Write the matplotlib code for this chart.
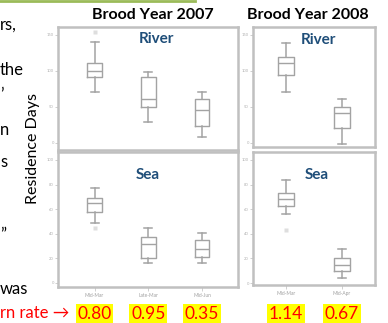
import matplotlib
matplotlib.use("Agg")
import matplotlib.pyplot as plt
from matplotlib.lines import Line2D

plt.rcParams['font.family'] = ['Lato', 'DejaVu Sans']

W, H = 388, 323

# box stats: whislo, q1, med, q3, whishi
river_2007 = [[71, 92, 100, 111, 140], [29, 50, 61, 92, 99], [8, 24, 46, 61, 71]]
river_2007_fliers = [[154], [], []]
sea_2007 = [[49, 58, 65, 69, 77], [16, 20, 32, 37, 45], [16, 21, 28, 35, 41]]
sea_2007_fliers = [[45], [], []]
river_2008 = [[71, 94, 111, 119, 139], [-1, 21, 42, 50, 61]]
river_2008_fliers = [[], []]
sea_2008 = [[56, 63, 68, 73, 84], [4, 10, 15, 20, 28]]
sea_2008_fliers = [[43], []]

labels_2007 = ['Mid-Mar', 'Late-Mar', 'Mid-Jun']
labels_2008 = ['Mid-Mar', 'Mid-Apr']
return_2007 = ['0.80', '0.95', '0.35']
return_2008 = ['1.14', '0.67']

river_ticks = [0, 50, 100, 150]
sea_ticks = [0, 20, 40, 60, 80, 100]

side_text = [('rs,', 25), ('the', 70), ('\u2019', 95), ('n', 130), ('s', 162),
             ('\u201d', 235), ('was', 289)]

GRAY = '#a3a3a3'
FRAME = '#c0c0c0'
BLUE = '#1f4e79'

fig = plt.figure(figsize=(W / 100, H / 100), dpi=100)


def px_axes(x0, y0, x1, y1):
    return fig.add_axes([x0 / W, 1 - y1 / H, (x1 - x0) / W, (y1 - y0) / H])


def draw_panel(ax, stats, fliers, ylim, xlim, ticks, xlabels=None):
    bxp_stats = []
    for s, f in zip(stats, fliers):
        bxp_stats.append(dict(whislo=s[0], q1=s[1], med=s[2], q3=s[3], whishi=s[4], fliers=f))
    pos = list(range(1, len(stats) + 1))
    ax.bxp(bxp_stats, positions=pos, widths=0.27, capwidths=0.15,
           boxprops=dict(color=GRAY, lw=1.0),
           whiskerprops=dict(color=GRAY, lw=1.1),
           capprops=dict(color=GRAY, lw=1.1),
           medianprops=dict(color=GRAY, lw=1.0),
           flierprops=dict(marker='s', markersize=2.5, markerfacecolor='#dedede',
                           markeredgecolor='none'))
    ax.set_xlim(*xlim)
    ax.set_ylim(*ylim)
    ax.set_yticks(ticks)
    ax.set_yticklabels([str(t) for t in ticks], fontsize=3, color='#b0b0b0')
    ax.tick_params(axis='y', length=2, width=0.6, color='#c8c8c8', pad=1)
    if xlabels is None:
        ax.set_xticks([])
    else:
        ax.set_xticks(pos)
        ax.set_xticklabels(xlabels, fontsize=3.5, color='#a0a0a0')
        ax.tick_params(axis='x', length=3, width=0.6, color='#c8c8c8', pad=1)
    for sp in ax.spines.values():
        sp.set_color(FRAME)
        sp.set_linewidth(1.8)


ax1 = px_axes(58, 27, 238, 150)
draw_panel(ax1, river_2007, river_2007_fliers, (-10, 161), (0.32, 3.67), river_ticks)
ax2 = px_axes(58, 152, 238, 287)
draw_panel(ax2, sea_2007, sea_2007_fliers, (-3.3, 106.5), (0.32, 3.67), sea_ticks, labels_2007)
ax3 = px_axes(253, 27, 375, 147)
draw_panel(ax3, river_2008, river_2008_fliers, (-5.6, 161), (0.41, 2.59), river_ticks)
ax4 = px_axes(253, 152, 375, 285)
draw_panel(ax4, sea_2008, sea_2008_fliers, (-1.6, 106.5), (0.41, 2.59), sea_ticks, labels_2008)

for name, xc, yc in [('River', 156, 39), ('Sea', 148, 175), ('River', 318, 40), ('Sea', 317, 175)]:
    fig.text(xc / W, 1 - yc / H, name, fontsize=11, fontweight='bold', color=BLUE,
             ha='center', va='center')

fig.text(153 / W, 1 - 15 / H, 'Brood Year 2007', fontsize=11.5, fontweight='bold',
         ha='center', va='center')
fig.text(308 / W, 1 - 15 / H, 'Brood Year 2008', fontsize=11.5, fontweight='bold',
         ha='center', va='center')

fig.text(33 / W, 1 - 148 / H, 'Residence Days', fontsize=11.5, rotation=90,
         ha='center', va='center')

# green rule along the top
fig.add_artist(Line2D([0, 195 / W], [1 - 1 / H, 1 - 1 / H], color='#9bbb59', lw=2,
                      transform=fig.transFigure))

for txt, y in side_text:
    fig.text(0, 1 - y / H, txt, fontsize=12, ha='left', va='center')
fig.text(0, 1 - 313 / H, 'rn rate \u2192', fontsize=12, color='red', ha='left',
         va='center')

# return rates under each group
for vals, ax in [(return_2007, ax2), (return_2008, ax4)]:
    for i, v in enumerate(vals):
        xd = ax.transData.transform((i + 1, 0))[0]
        xf = fig.transFigure.inverted().transform((xd, 0))[0]
        fig.text(xf, 1 - 314 / H, v, fontsize=12.5, color='red', ha='center', va='center',
                 bbox=dict(boxstyle='square,pad=0.1', facecolor='yellow', edgecolor='none'))

fig.savefig('out.png', dpi=100, facecolor='white')
